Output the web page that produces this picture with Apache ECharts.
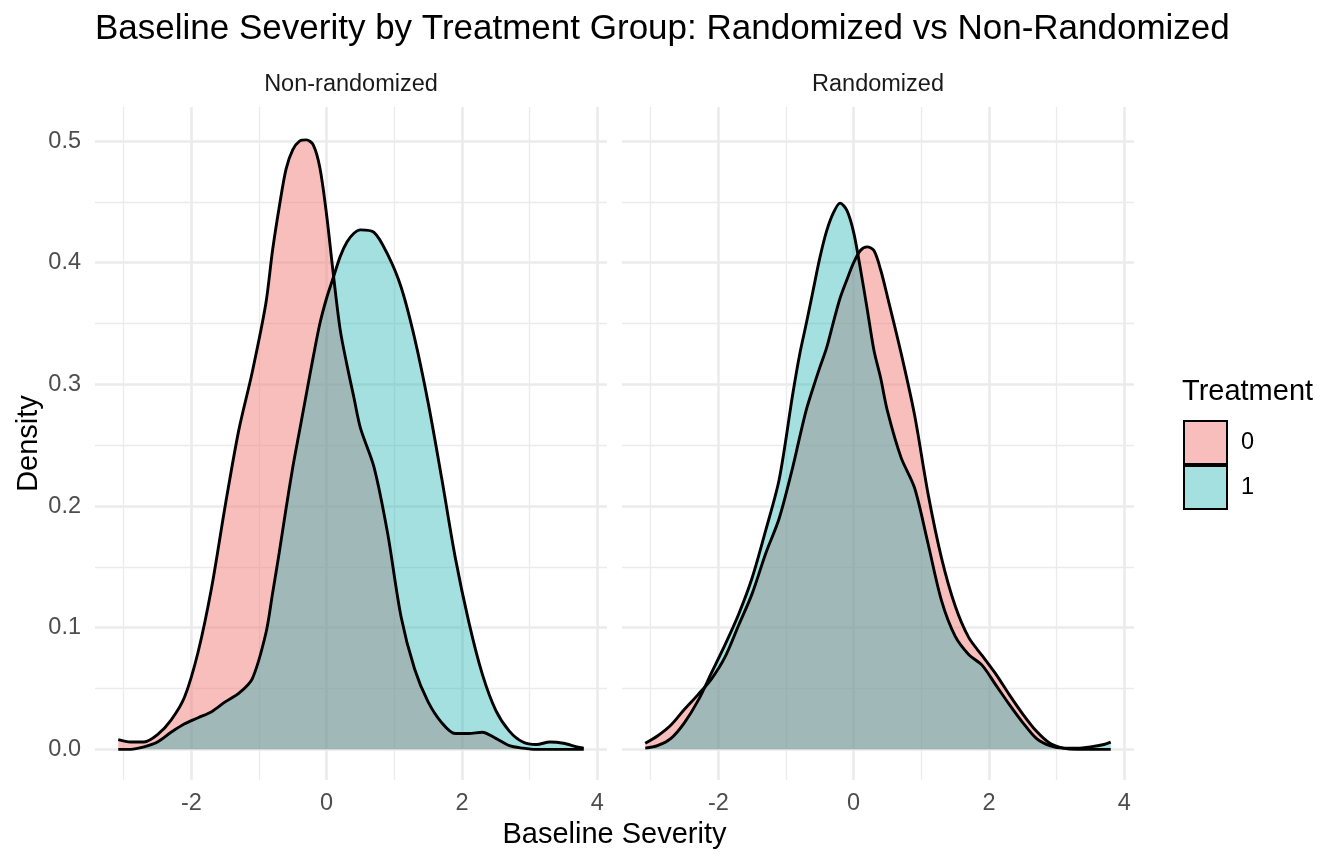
<!DOCTYPE html>
<html>
<head>
<meta charset="utf-8">
<script src="https://cdn.jsdelivr.net/npm/echarts@6/dist/echarts.min.js"></script>
<style>
  html, body { margin: 0; background: #fff; }
  #chart { width: 1344px; height: 864px; }
</style>
</head>
<body>
<div id="chart"></div>
<script>
// density curves (x = baseline severity)
const xs = [-3.08, -2.9, -2.7, -2.5, -2.3, -2.1, -1.9, -1.7, -1.5, -1.3, -1.1,
  -0.9, -0.8, -0.7, -0.6, -0.5, -0.4, -0.3, -0.2, -0.1, 0, 0.1, 0.2, 0.3, 0.4, 0.5,
  0.7, 0.9, 1.1, 1.3, 1.5, 1.7, 1.9, 2.1, 2.3, 2.5, 2.7, 2.9, 3.1, 3.3, 3.5, 3.7, 3.8];

const nonRand0 = [0.008, 0.006, 0.006, 0.012, 0.024, 0.043, 0.08, 0.133, 0.2, 0.262, 0.31,
  0.366, 0.41, 0.446, 0.477, 0.493, 0.5, 0.501, 0.497, 0.478, 0.439, 0.39, 0.345, 0.316, 0.29, 0.264,
  0.232, 0.178, 0.109, 0.066, 0.039, 0.022, 0.013, 0.013, 0.014, 0.009, 0.003, 0.001, 0, 0, 0, 0, 0];
const nonRand1 = [0, 0, 0.002, 0.006, 0.014, 0.021, 0.026, 0.031, 0.039, 0.046, 0.058,
  0.095, 0.128, 0.162, 0.198, 0.232, 0.262, 0.292, 0.322, 0.35, 0.371, 0.388, 0.405, 0.417, 0.424, 0.427,
  0.425, 0.407, 0.38, 0.338, 0.285, 0.223, 0.158, 0.105, 0.062, 0.032, 0.015, 0.006, 0.004, 0.006, 0.005, 0.002, 0.001];
const rand0 = [0.005, 0.011, 0.02, 0.033, 0.045, 0.058, 0.076, 0.102, 0.128, 0.161, 0.19,
  0.232, 0.256, 0.279, 0.297, 0.314, 0.33, 0.351, 0.371, 0.386, 0.4, 0.41, 0.413, 0.41, 0.394, 0.372,
  0.326, 0.275, 0.21, 0.157, 0.118, 0.092, 0.077, 0.062, 0.045, 0.029, 0.015, 0.005, 0.001, 0, 0, 0, 0];
const rand1 = [0.001, 0.003, 0.009, 0.022, 0.04, 0.063, 0.086, 0.111, 0.141, 0.18, 0.222,
  0.292, 0.324, 0.35, 0.377, 0.404, 0.426, 0.441, 0.449, 0.443, 0.425, 0.395, 0.362, 0.328, 0.305, 0.278,
  0.24, 0.215, 0.169, 0.122, 0.093, 0.078, 0.069, 0.053, 0.037, 0.022, 0.009, 0.003, 0.001, 0.001, 0.002, 0.004, 0.006];

const panels = ['Non-randomized', 'Randomized'];
const groups = ['0', '1'];
const xTicks = [-2, 0, 2, 4];
const xMinor = [-3, -1, 1, 3];
const yTicks = [0, 0.1, 0.2, 0.3, 0.4, 0.5];
const yMinor = [0.05, 0.15, 0.25, 0.35, 0.45];

const FONT = 'Liberation Sans';
const fills = ['rgba(241,125,121,0.5)', 'rgba(27,178,178,0.4)'];
const gridLeft = [95, 622];
const gridW = 512;
const gridTop = 107;
const gridH = 673;

// ggplot-like 5% padding around the data range
const xMin = -3.424, xMax = 4.144;
const yMin = -0.0252, yMax = 0.528;

const pairs = ys => xs.map((x, i) => [x, ys[i]]);
const panelData = [[nonRand0, nonRand1], [rand0, rand1]];

const gridMarks = () => [
  ...xTicks.map(v => ({xAxis: v, lineStyle: {color: '#EBEBEB', width: 2.6, type: 'solid'}})),
  ...xMinor.map(v => ({xAxis: v, lineStyle: {color: '#EBEBEB', width: 1.3, type: 'solid'}})),
  ...yTicks.map(v => ({yAxis: v, lineStyle: {color: '#EBEBEB', width: 2.6, type: 'solid'}})),
  ...yMinor.map(v => ({yAxis: v, lineStyle: {color: '#EBEBEB', width: 1.3, type: 'solid'}}))
];

let chart = echarts.init(document.getElementById('chart'), null, {renderer: 'canvas'});

let series = [];
panels.forEach((p, k) => {
  // background grid lines, kept under the fills
  series.push({
    type: 'line', xAxisIndex: k, yAxisIndex: k, data: [], z: 0,
    markLine: {silent: true, z: 0, symbol: ['none', 'none'], label: {show: false}, animation: false, data: gridMarks()}
  });
  groups.forEach((g, j) => {
    series.push({
      name: g, type: 'line', xAxisIndex: k, yAxisIndex: k, z: 2,
      data: pairs(panelData[k][j]),
      smooth: 0.3, showSymbol: false, symbol: 'none',
      lineStyle: {color: '#000', width: 2.9},
      itemStyle: {color: fills[j]},
      areaStyle: {color: fills[j], opacity: 1}
    });
  });
});

chart.setOption({
  animation: false,
  backgroundColor: '#fff',
  textStyle: {fontFamily: FONT},
  grid: panels.map((p, k) => ({left: gridLeft[k], top: gridTop, width: gridW, height: gridH})),
  xAxis: panels.map((p, k) => ({
    type: 'value', gridIndex: k, min: xMin, max: xMax,
    axisLine: {show: false}, axisTick: {show: false}, splitLine: {show: false},
    axisLabel: {customValues: xTicks, color: '#4D4D4D', fontSize: 23.5, fontFamily: FONT, margin: 12}
  })),
  yAxis: panels.map((p, k) => ({
    type: 'value', gridIndex: k, min: yMin, max: yMax,
    axisLine: {show: false}, axisTick: {show: false}, splitLine: {show: false},
    name: k === 0 ? 'Density' : '', nameLocation: 'middle', nameGap: 52,
    nameTextStyle: {color: '#000', fontSize: 29, fontFamily: FONT},
    axisLabel: {show: k === 0, customValues: yTicks, color: '#4D4D4D', fontSize: 23.5, fontFamily: FONT, margin: 14,
      formatter: v => v.toFixed(1)}
  })),
  legend: {
    orient: 'vertical', left: 1183, top: 420, padding: 0, itemGap: 0,
    itemWidth: 43, itemHeight: 43,
    textStyle: {fontSize: 23.5, color: '#000', fontFamily: FONT, padding: [0, 0, 0, 9]},
    data: groups.map((g, j) => ({name: g, icon: 'rect',
      itemStyle: {color: fills[j], borderColor: '#000', borderWidth: 2}}))
  },
  graphic: [
    {type: 'text', left: 95, top: 12, style: {text: 'Baseline Severity by Treatment Group: Randomized vs Non-Randomized',
      font: '35px "Liberation Sans"', fill: '#000'}},
    ...panels.map((p, k) => ({type: 'text', x: gridLeft[k] + gridW / 2, y: 85,
      style: {text: p, font: '23.5px "Liberation Sans"', fill: '#1A1A1A', align: 'center', verticalAlign: 'middle'}})),
    {type: 'text', x: (gridLeft[0] + gridLeft[1] + gridW) / 2, y: 835,
      style: {text: 'Baseline Severity', font: '29px "Liberation Sans"', fill: '#000', align: 'center', verticalAlign: 'middle'}},
    {type: 'text', x: 1182, y: 392,
      style: {text: 'Treatment', font: '29px "Liberation Sans"', fill: '#000', align: 'left', verticalAlign: 'middle'}}
  ],
  series: series
});
</script>
</body>
</html>
